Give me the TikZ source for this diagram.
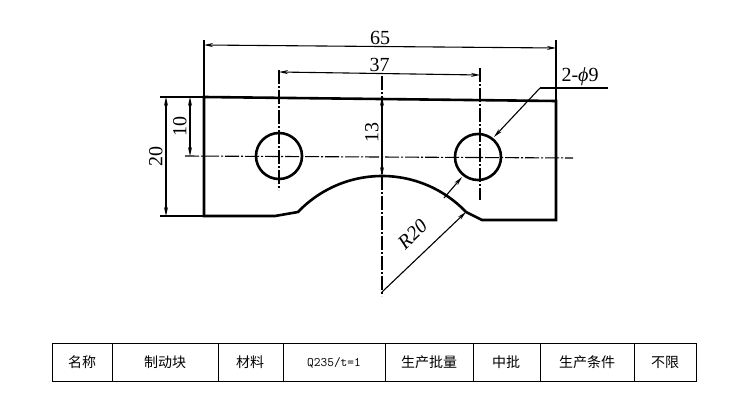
\documentclass[tikz,border=0pt]{standalone}
\usepackage{fontspec}
\newfontfamily\cjk{Noto Sans CJK SC}
\setmainfont{Liberation Serif}
\usetikzlibrary{arrows.meta}
\tikzset{thick line/.style={line width=2.6pt},thin line/.style={line width=1.1pt},
 cl/.style={line width=1.1pt,dash pattern=on 14pt off 2pt on 2pt off 2pt},
 dim/.style={line width=1.1pt,{Stealth[length=9pt,width=4pt]}-{Stealth[length=9pt,width=4pt]}},
 lab/.style={font=\fontsize{20}{20}\selectfont,inner sep=1pt},
 cell/.style={font=\cjk\fontsize{14}{14}\selectfont}}
\begin{document}
\begin{tikzpicture}[x=1pt,y=-1pt]
\useasboundingbox (0,0) rectangle (752,412);
% part outline
\draw[thick line] (204,97) -- (556,101) -- (556,220) -- (482,220) -- (466,212)
  arc[start angle=-43.6, end angle=-136.4, radius=116] -- (275,216) -- (204,216) -- cycle;
\draw[thick line] (279,156) circle (23);
\draw[thick line] (478,157) circle (23);
% centre lines
\draw[cl] (185,156) -- (573,158);
\draw[cl] (279,70) -- (279,190);
\draw[cl] (480,68) -- (480,200);
\draw[cl] (382,76) -- (382,296);
% extension lines
\draw[thin line] (204,40) -- (204,97);
\draw[thin line] (556,40) -- (556,101);
\draw[thin line] (160,97) -- (204,97);
\draw[thin line] (160,216) -- (204,216);
% dimensions
\coordinate (a65) at (204,45); \coordinate (b65) at (556,48);
\draw[dim] (a65) -- node[lab,above=0pt] {65} (b65);
\coordinate (a37) at (279,72); \coordinate (b37) at (480,75);
\draw[dim] (a37) -- node[lab,above=0pt,pos=0.5] {37} (b37);
\coordinate (a20) at (166,97); \coordinate (b20) at (166,216);
\draw[dim] (a20) -- node[lab,rotate=90,above=2pt] {20} (b20);
\coordinate (a10) at (190,97); \coordinate (b10) at (190,156);
\draw[dim] (a10) -- node[lab,rotate=90,above=2pt] {10} (b10);
\coordinate (a13) at (382,97); \coordinate (b13) at (382,176);
\draw[dim] (a13) -- node[lab,rotate=90,above=2pt,pos=0.45] {13} (b13);
% R20
\coordinate (rc) at (382,292); \coordinate (ra) at (466,212);
\draw[thin line,-{Stealth[length=9pt,width=4pt]}] (rc) -- (ra);
\node[lab,font=\itshape\fontsize{20}{20}\selectfont,rotate=43.6,anchor=south] (r20) at (418,240) {R20};
% 2-phi9 leader
\coordinate (l0) at (540,88); \coordinate (l1) at (608,88);
\coordinate (h1) at (494,137); \coordinate (h2) at (462,177); \coordinate (h3) at (444,198);
\draw[thin line] (l1) -- (l0);
\draw[thin line,-{Stealth[length=9pt,width=4pt]}] (l0) -- (h1);
\draw[thin line,-{Stealth[length=9pt,width=4pt]}] (h3) -- (h2);
\node[lab,anchor=south] (phi) at (580,87) {2-\textit{ϕ}9};
% table
\draw[line width=1pt] (52,343) rectangle (696,381);
\foreach \x in {112,218,283,385,473,540,634} \draw[line width=1pt] (\x,343) -- (\x,381);
\node[cell] (t1) at (82,362) {名称};
\node[cell] (t2) at (165,362) {制动块};
\node[cell] (t3) at (250,362) {材料};
\node[cell,font=\ttfamily\fontsize{13}{13}\selectfont] (t4) at (334,363) {Q235/t=1};
\node[cell] (t5) at (429,362) {生产批量};
\node[cell] (t6) at (506,362) {中批};
\node[cell] (t7) at (587,362) {生产条件};
\node[cell] (t8) at (665,362) {不限};
\end{tikzpicture}
\end{document}
